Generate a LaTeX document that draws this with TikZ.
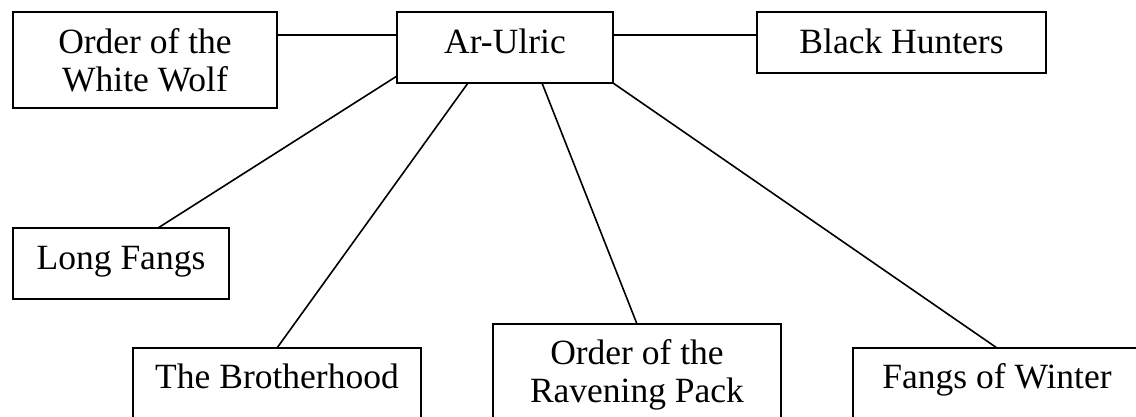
\documentclass[tikz,border=0pt]{standalone}
\usepackage{fontspec}
\setmainfont{Liberation Serif}
\usetikzlibrary{calc}
\tikzset{
  box/.style={draw=black, line width=1.8pt, fill=white, inner sep=0pt, outer sep=0pt, rectangle},
  lbl/.style={inner sep=0pt, outer sep=0pt, anchor=base, align=center, font=\fontsize{35.5}{38}\selectfont},
  link/.style={draw=black, line width=1.6pt}
}
\begin{document}
\begin{tikzpicture}[x=1pt,y=-1pt]
\useasboundingbox (0,0) rectangle (1136,416);
\clip (0,0) rectangle (1136,416);
\fill[white] (0,0) rectangle (1136,416);
% boxes
\node[box, minimum width=264pt, minimum height=96pt] (ww) at (145,60) {};
\node[box, minimum width=216pt, minimum height=71pt] (au) at (505,47.5) {};
\node[box, minimum width=289pt, minimum height=61pt] (bh) at (901.5,42.5) {};
\node[box, minimum width=216pt, minimum height=71pt] (lf) at (121,263.5) {};
\node[box, minimum width=288pt, minimum height=100pt] (br) at (277,398) {};
\node[box, minimum width=288pt, minimum height=110pt] (rp) at (637,379) {};
\node[box, minimum width=288pt, minimum height=100pt] (fw) at (997,398) {};
% labels
\node[lbl] (wwt) at (145,91) {Order of the\\White Wolf};
\node[lbl] (aut) at (505,53) {Ar-Ulric};
\node[lbl] (bht) at (901.5,53) {Black Hunters};
\node[lbl] (lft) at (121,269) {Long Fangs};
\node[lbl] (brt) at (277,388) {The Brotherhood};
\node[lbl] (rpt) at (637,402) {Order of the\\Ravening Pack};
\node[lbl] (fwt) at (997,388) {Fangs of Winter};
% connectors
\draw[link] ($(ww.north east)+(0,23)$) -- ($(au.north west)+(0,23)$);
\draw[link] ($(au.north east)+(0,23)$) -- ($(bh.north west)+(0,23)$);
\draw[link] ($(au.south west)+(0,-7)$) -- ($(lf.north west)+(145,0)$);
\draw[link] ($(au.south west)+(71,0)$) -- (br.north);
\draw[link] ($(au.south west)+(145,0)$) -- (rp.north);
\draw[link] (au.south east) -- (fw.north);
\end{tikzpicture}
\end{document}
